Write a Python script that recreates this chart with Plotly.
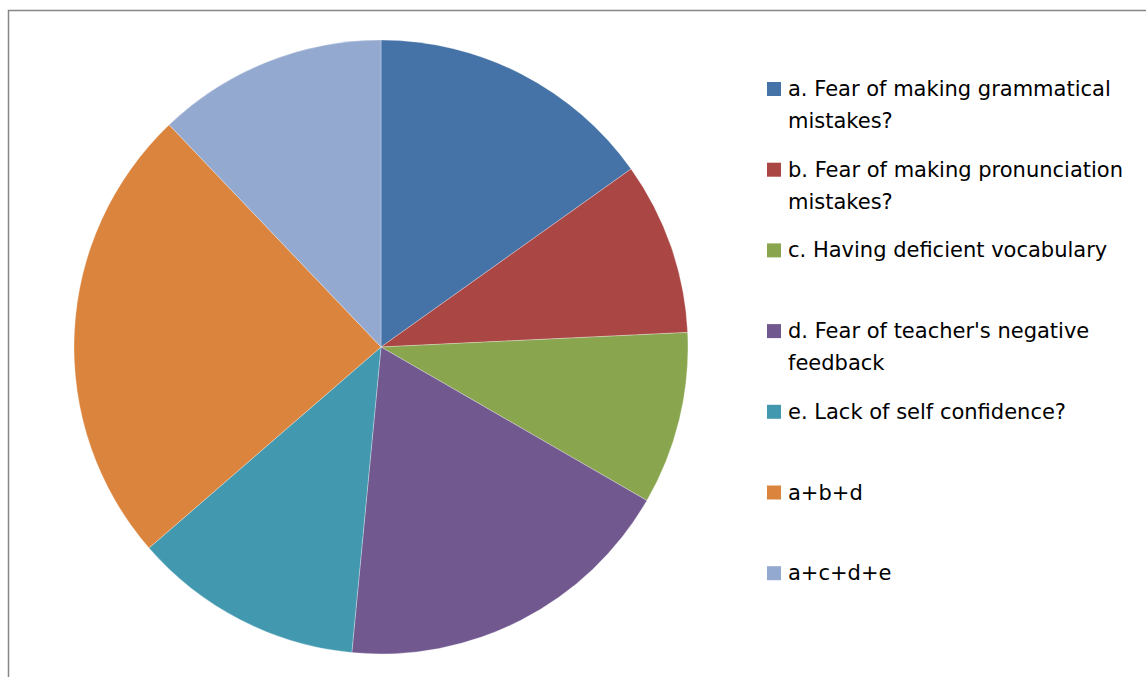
import plotly.graph_objects as go

W, H = 1146, 677

labels = [
    "a. Fear of making grammatical<br>mistakes?",
    "b. Fear of making pronunciation<br>mistakes?",
    "c. Having deficient vocabulary",
    "d. Fear of teacher's negative<br>feedback",
    "e. Lack of self confidence?",
    "a+b+d",
    "a+c+d+e",
]
values = [5, 3, 3, 6, 4, 8, 4]
colors = ["#4572A7", "#AA4643", "#89A54E", "#71588F", "#4198AF", "#DB843D", "#93A9CF"]

# pie placement (pixels)
cx, cy, r = 381, 347, 307

fig = go.Figure()
fig.add_trace(go.Pie(
    labels=[l.replace("<br>", " ") for l in labels],
    values=values,
    marker=dict(colors=colors, line=dict(color="white", width=0.3)),
    sort=False,
    direction="clockwise",
    rotation=0,
    textinfo="none",
    hoverinfo="label+value+percent",
    showlegend=False,
    domain=dict(x=[(cx - r) / W, (cx + r) / W], y=[1 - (cy + r) / H, 1 - (cy - r) / H]),
))

shapes = []
annotations = []
# outer frame
shapes.append(dict(type="rect", xref="paper", yref="paper",
                   x0=8.5 / W, x1=1.02, y0=-0.02, y1=1 - 10.5 / H,
                   line=dict(color="#868686", width=1.5), fillcolor="rgba(0,0,0,0)", layer="below"))

leg_x_sq = 767
leg_x_txt = 787
first_y = 89
step = 80.7
line_gap = 32
sq = 14
font = dict(family="DejaVu Sans", size=21, color="#000000")
for i, (lab, col) in enumerate(zip(labels, colors)):
    yc = first_y + i * step
    shapes.append(dict(type="rect", xref="paper", yref="paper",
                       x0=leg_x_sq / W, x1=(leg_x_sq + sq) / W,
                       y0=1 - (yc + sq / 2) / H, y1=1 - (yc - sq / 2) / H,
                       line=dict(width=0), fillcolor=col))
    for j, part in enumerate(lab.split("<br>")):
        annotations.append(dict(xref="paper", yref="paper", x=leg_x_txt / W,
                                y=1 - (yc + j * line_gap) / H, text=part, showarrow=False,
                                xanchor="left", yanchor="middle", font=font, borderpad=0))

fig.update_layout(
    width=W, height=H,
    margin=dict(l=0, r=0, t=0, b=0),
    paper_bgcolor="white", plot_bgcolor="white",
    shapes=shapes, annotations=annotations,
)

fig.write_html("out.html")
